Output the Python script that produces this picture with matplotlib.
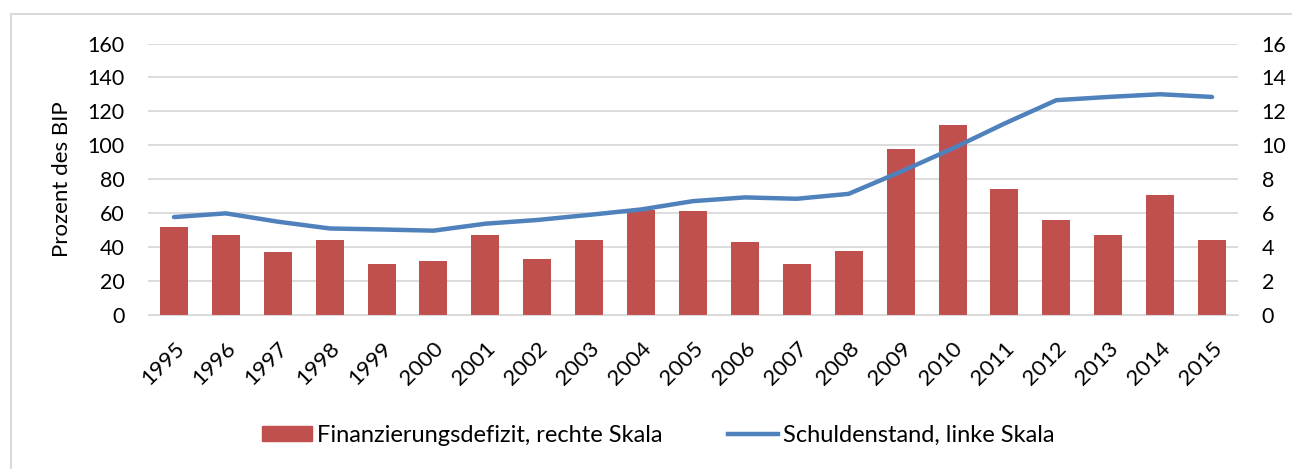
import matplotlib.pyplot as plt
from matplotlib.lines import Line2D

years = list(range(1995, 2016))
# Finanzierungsdefizit (rechte Skala, % des BIP)
defizit = [5.2, 4.7, 3.7, 4.4, 3.0, 3.2, 4.7, 3.3, 4.4, 6.2, 6.1,
           4.3, 3.0, 3.8, 9.8, 11.2, 7.4, 5.6, 4.7, 7.1, 4.4]
# Schuldenstand (linke Skala, % des BIP)
schulden = [57.7, 59.9, 55.0, 51.0, 50.4, 49.7, 53.8, 56.0, 59.0, 62.2, 67.1,
            69.3, 68.5, 71.4, 84.4, 98.1, 112.8, 126.6, 128.5, 130.1, 128.5]
left_ticks = [0, 20, 40, 60, 80, 100, 120, 140, 160]
right_ticks = [0, 2, 4, 6, 8, 10, 12, 14, 16]

RED = "#C0504D"
BLUE = "#4F81BD"
GRID = "#D9D9D9"
W, H = 1292, 469

plt.rcParams["font.family"] = ["Lato", "DejaVu Sans"]

fig = plt.figure(figsize=(W / 100, H / 100), dpi=100)
ax = fig.add_axes([148 / W, 1 - 315 / H, (1238 - 148) / W, (315 - 43.5) / H])
ax2 = ax.twinx()

x = list(range(len(years)))

# bars on right scale
ax2.bar(x, defizit, width=0.54, color=RED, zorder=2)
ax2.set_ylim(0, 16)
ax2.set_yticks(right_ticks)
ax2.grid(axis="y", color=GRID, linewidth=1.3, zorder=0)
ax2.set_axisbelow(True)

# line on left scale, drawn above bars
ax.plot(x, schulden, color=BLUE, linewidth=3.2, solid_capstyle="round", zorder=3)
ax.set_ylim(0, 160)
ax.set_yticks(left_ticks)
ax.set_zorder(ax2.get_zorder() + 1)
ax.patch.set_visible(False)
ax.set_xlim(-0.5, len(years) - 0.5)
ax.set_xticks(x)
ax.set_xticklabels([str(y) for y in years], rotation=45, ha="right",
                   rotation_mode="anchor", fontsize=16)
ax.set_ylabel("Prozent des BIP", fontsize=16)
ax.yaxis.set_label_coords((72 - 148) / (1238 - 148), 0.5)

for a in (ax, ax2):
    for s in a.spines.values():
        s.set_visible(False)
    a.tick_params(axis="y", length=0, labelsize=15.5, colors="#000000")
    a.tick_params(axis="x", length=0, colors="#000000")
ax.tick_params(axis="y", pad=17)
ax2.tick_params(axis="y", pad=17)
ax.tick_params(axis="x", pad=17)
ax2.spines["bottom"].set_visible(True)
ax2.spines["bottom"].set_color(GRID)

# outer chart border (only left and top visible in the crop)
fig.patches.append(plt.Rectangle((11 / W, -0.1), 1.2, 1.1 - 14 / H,
                                 transform=fig.transFigure, fill=False,
                                 edgecolor="#D9D9D9", linewidth=1.5))

legend_kw = dict(loc="center left", frameon=False, fontsize=17, borderpad=0,
                 borderaxespad=0, handletextpad=0.25, handlelength=2.1,
                 handleheight=0.6)
fig.legend([plt.Rectangle((0, 0), 1, 1, color=RED)],
           ["Finanzierungsdefizit, rechte Skala"],
           bbox_to_anchor=(262 / W, 1 - 435 / H), **legend_kw)
fig.legend([Line2D([0], [0], color=BLUE, linewidth=3.2)],
           ["Schuldenstand, linke Skala"],
           bbox_to_anchor=(728 / W, 1 - 435 / H), **legend_kw)

fig.savefig("out.png", dpi=100)
